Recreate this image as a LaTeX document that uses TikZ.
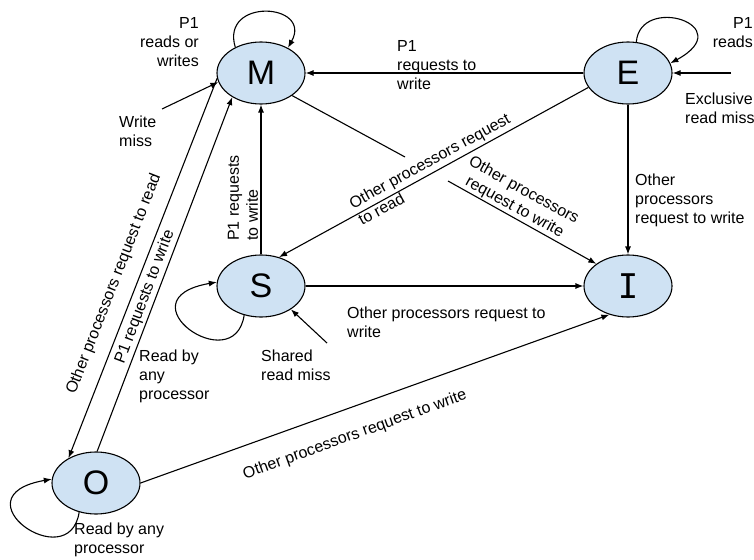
\documentclass[tikz,border=0pt]{standalone}
\usepackage{fontspec}
\setmainfont{Liberation Sans}
\newfontfamily\letterI{DejaVu Sans Mono}
\usetikzlibrary{arrows.meta,shapes.geometric,calc}
\definecolor{statefill}{RGB}{207,226,243}
\tikzset{
  cstate/.style={ellipse, draw=black, line width=1.1pt, fill=statefill,
              minimum width=88pt, minimum height=62pt, inner sep=0pt, font=\fontsize{34}{34}\selectfont},
  flow/.style={-{Latex[length=8pt,width=6pt]}, line width=1.1pt},
  plain/.style={line width=1.1pt},
  lbl/.style={font=\fontsize{16}{19}\selectfont, align=left, inner sep=0pt},
}

\begin{document}
\begin{tikzpicture}[x=1pt,y=-1pt]
        \useasboundingbox (0,0) rectangle (754,559);
        \node[cstate] (M) at (261,73) {M};
        \node[cstate] (E) at (628,73) {E};
        \node[cstate] (S) at (261,286) {S};
        \node[cstate] (I) at (628,286) {\letterI I};
        \node[cstate] (O) at (96,483) {O};
        \coordinate (wmiss) at (162,109);
        \coordinate (xmiss) at (731,73);
        \coordinate (smiss) at (327,343);
        \coordinate (gapA) at (405,157);
        \coordinate (gapB) at (448,181);
        \draw[flow] (M.135) .. controls +(-15,-50) and +(25,-45) .. (M.43);
        \draw[flow] (E.75) .. controls +(4,-48) and +(70,-38) .. (E.13);
        \foreach \s in {S,O} \draw[flow] (\s.240) .. controls +(-10,65) and +(-97,17) .. (\s.175);
        \draw[flow] (wmiss) -- (M.192);
        \draw[flow] (xmiss) -- (E.east);
        \draw[flow] (smiss) -- (S.322);
        \draw[flow] (E.west) -- (M.east);
        \draw[flow] (S.north) -- (M.south);
        \draw[flow] (M.187) -- (O.138);
        \draw[flow] (O.88) -- (M.220);
        \draw[flow] (E.200) -- (S.58);
        \draw[plain] (M.324) -- (gapA);
        \draw[flow] (gapB) -- (I.145);
        \draw[flow] (E.south) -- (I.north);
        \draw[flow] (S.east) -- (I.west);
        \draw[flow] (O.east) -- (I.237);
        \node[lbl, align=right, anchor=east] (lMloop) at (199,42) {P1\\reads or\\writes};
        \node[lbl, anchor=west] (lwmiss) at (119,131) {Write\\miss};
        \node[lbl, anchor=west] (lEM) at (397,65) {P1\\requests to\\write};
        \node[lbl, align=right, anchor=east] (lEloop) at (753,33) {P1\\reads};
        \node[lbl, anchor=west] (lxmiss) at (685,108) {Exclusive\\read miss};
        \node[lbl, anchor=west] (lEI) at (635,200) {Other\\processors\\request to write};
        \node[lbl, rotate=90] (lSM) at (243,198) {P1 requests\\to write};
        \node[lbl, rotate=28.7] (lES) at (434,169) {Other processors request\\to read};
        \node[lbl, align=center, rotate=-28.8] (lMI) at (519,199) {Other processors\\request to write};
        \node[lbl, anchor=west] (lSI) at (347,322) {Other processors request to\\write};
        \node[lbl, anchor=west] (lsmiss) at (261,365) {Shared\\read miss};
        \node[lbl, rotate=68.7] (lMO) at (114,284) {Other processors request to read};
        \node[lbl, rotate=69.2] (lOM) at (145,297) {P1 requests to write};
        \node[lbl, anchor=west] (lread) at (139,376) {Read by\\any\\processor};
        \node[lbl, rotate=19.9] (lOI) at (355,435) {Other processors request to write};
        \node[lbl, anchor=west] (lOloop) at (74,540) {Read by any\\processor};
\end{tikzpicture}
\end{document}
